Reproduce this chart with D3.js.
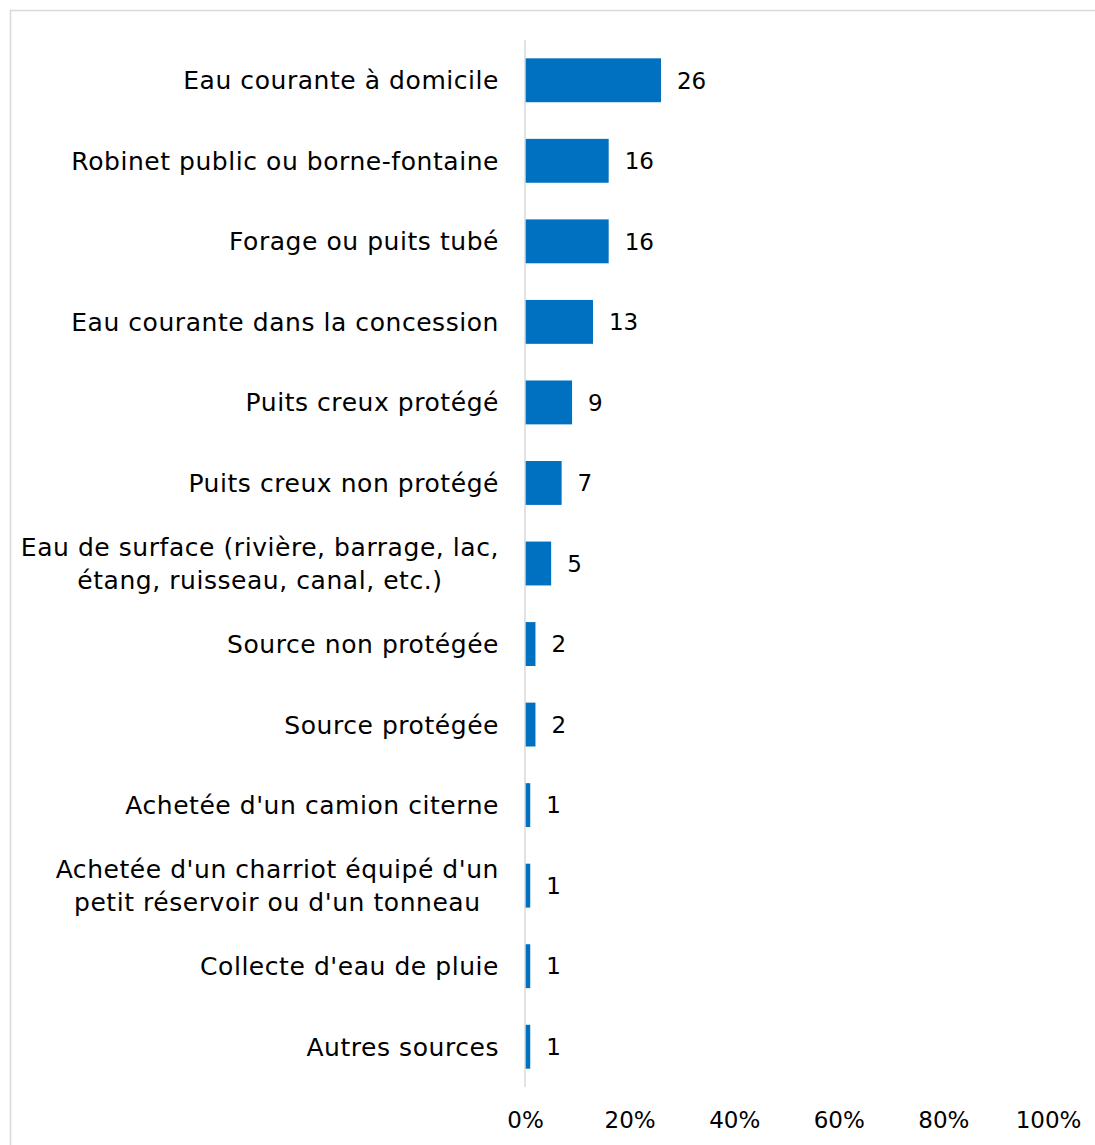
<!DOCTYPE html>
<html>
<head>
<meta charset="utf-8">
<script src="https://cdn.jsdelivr.net/npm/d3@7"></script>
<style>
  html, body { margin: 0; padding: 0; background: #fff; }
  svg { display: block; }
  text { font-family: "DejaVu Sans", sans-serif; fill: #000; }
</style>
</head>
<body>
<svg id="chart" width="1095" height="1145"></svg>
<script>
// Water sources (each label line is a separate entry)
const categories = [
  ["Eau courante à domicile"],
  ["Robinet public ou borne-fontaine"],
  ["Forage ou puits tubé"],
  ["Eau courante dans la concession"],
  ["Puits creux protégé"],
  ["Puits creux non protégé"],
  ["Eau de surface (rivière, barrage, lac,", "étang, ruisseau, canal, etc.)"],
  ["Source non protégée"],
  ["Source protégée"],
  ["Achetée d'un camion citerne"],
  ["Achetée d'un charriot équipé d'un", "petit réservoir ou d'un tonneau"],
  ["Collecte d'eau de pluie"],
  ["Autres sources"]
];
const values = [26, 16, 16, 13, 9, 7, 5, 2, 2, 1, 1, 1, 1];
const tickValues = [0, 20, 40, 60, 80, 100];
const tickLabels = ["0%", "20%", "40%", "60%", "80%", "100%"];

const svg = d3.select("#chart");
const W = 1095, H = 1145;

// outer frame
svg.append("rect")
  .attr("x", 10.5).attr("y", 10.5)
  .attr("width", W + 20).attr("height", H + 20)
  .attr("fill", "none").attr("stroke", "#d9d9d9").attr("stroke-width", 1.5);

const plotLeft = 525, plotRight = 1048, plotTop = 40, plotBottom = 1087;

const x = d3.scaleLinear().domain([0, 100]).range([plotLeft, plotRight]);
const y = d3.scaleBand()
  .domain(d3.range(categories.length))
  .range([plotTop, plotBottom])
  .paddingInner(0.455).paddingOuter(0.2275);

// bars
svg.append("g").selectAll("rect")
  .data(values)
  .join("rect")
  .attr("x", x(0))
  .attr("y", (d, i) => y(i))
  .attr("width", d => x(d) - x(0))
  .attr("height", y.bandwidth())
  .attr("fill", "#0070c0");

// vertical axis line
svg.append("line")
  .attr("x1", x(0)).attr("x2", x(0))
  .attr("y1", plotTop).attr("y2", plotBottom)
  .attr("stroke", "#d9d9d9").attr("stroke-width", 1.5);

// value labels
svg.append("g").selectAll("text")
  .data(values)
  .join("text")
  .attr("x", d => x(d) + 16)
  .attr("y", (d, i) => y(i) + y.bandwidth() / 2)
  .attr("dy", "0.36em")
  .attr("font-size", 23)
  .text(d => d);

// category labels: single lines right-aligned, wrapped lines centred on the widest
const labelRight = 499, lineH = 33, catSize = 25, catSpacing = 0.55;
const catG = svg.append("g");
categories.forEach((lines, i) => {
  const cy = y(i) + y.bandwidth() / 2;
  const t = catG.append("text").attr("font-size", catSize).attr("letter-spacing", catSpacing);
  if (lines.length === 1) {
    t.attr("x", labelRight).attr("y", cy).attr("dy", "0.36em")
      .attr("text-anchor", "end").text(lines[0]);
  } else {
    // measure widest line to find the centre
    const tmp = catG.append("text").attr("font-size", catSize).attr("letter-spacing", catSpacing);
    let maxW = 0;
    lines.forEach(l => { tmp.text(l); maxW = Math.max(maxW, tmp.node().getComputedTextLength()); });
    tmp.remove();
    const cx = labelRight - maxW / 2;
    t.attr("text-anchor", "middle");
    lines.forEach((l, k) => {
      t.append("tspan")
        .attr("x", cx)
        .attr("y", cy + (k - (lines.length - 1) / 2) * lineH)
        .attr("dy", "0.36em")
        .text(l);
    });
  }
});

// x axis tick labels
const xAxis = d3.axisBottom(x)
  .tickValues(tickValues)
  .tickFormat((d, i) => tickLabels[i])
  .tickSize(0).tickPadding(0);
const gx = svg.append("g").attr("transform", `translate(0, 1112)`).call(xAxis);
gx.select(".domain").remove();
gx.selectAll("text")
  .attr("font-family", "DejaVu Sans, sans-serif")
  .attr("font-size", 23)
  .attr("fill", "#000");
</script>
</body>
</html>
